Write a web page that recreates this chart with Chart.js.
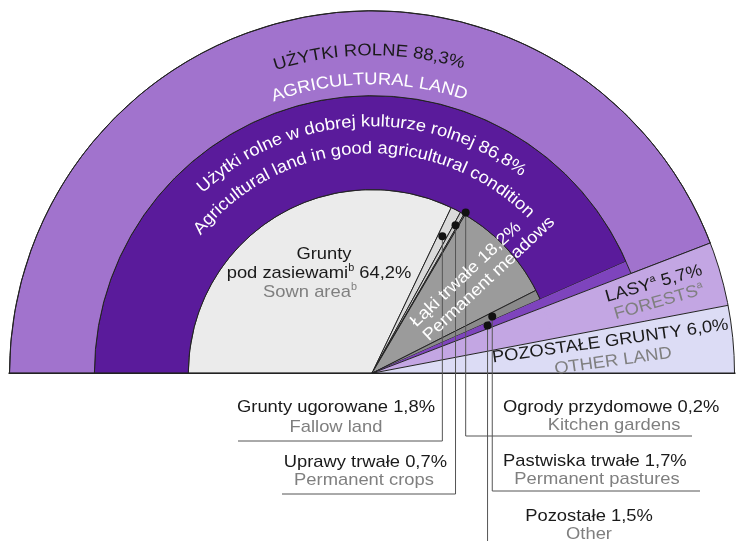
<!DOCTYPE html>
<html>
<head>
<meta charset="utf-8">
<script src="https://cdn.jsdelivr.net/npm/chart.js@4.4.1/dist/chart.umd.min.js"></script>
<style>
  html, body { margin: 0; padding: 0; background: #fff; }
  canvas { display: block; }
</style>
</head>
<body>
<canvas id="landChart" width="736" height="541"></canvas>
<script>
// Struktura użytkowania gruntów (% powierzchni ogólnej)
const landLabels = ['UŻYTKI ROLNE', 'LASY', 'POZOSTAŁE GRUNTY'];
const landLabelsEn = ['AGRICULTURAL LAND', 'FORESTS', 'OTHER LAND'];
const landShares = [88.3, 5.7, 6.0];

const goodConditionLabel = 'Użytki rolne w dobrej kulturze rolnej';
const goodConditionLabelEn = 'Agricultural land in good agricultural condition';
const goodConditionShare = 86.8;

const agriLabels = ['Grunty pod zasiewami', 'Grunty ugorowane', 'Uprawy trwałe', 'Ogrody przydomowe', 'Łąki trwałe', 'Pastwiska trwałe', 'Pozostałe'];
const agriLabelsEn = ['Sown area', 'Fallow land', 'Permanent crops', 'Kitchen gardens', 'Permanent meadows', 'Permanent pastures', 'Other'];
const agriShares = [64.2, 1.8, 0.7, 0.2, 18.2, 1.7, 1.5];

const landColors = ['#A173CD', '#C3A6E3', '#DCDCF5'];
const agriColors = ['#EBEBEB', '#DADADA', '#CACACA', '#BDBDBD', '#9B9B9B', '#8A8A8A', '#7E44BD'];
const goodColor = '#5A1B9B';

const FONT = '17px "Liberation Sans", Arial, sans-serif';
const SUP_FONT = '10px "Liberation Sans", Arial, sans-serif';
const SX = 1.08; // text in the original is a bit wider than Arial
const BLACK = '#1a1a1a';
const GREY = '#7f7f7f';

const fmt = v => v.toFixed(1).replace('.', ',') + '%';
const rad = d => d * Math.PI / 180;

// callouts for the thin slices: dot radius, leader line and label places
const callouts = [
    { idx: 1, r: 154, lineY: 441, lineX: 238, mainX: 435, mainY: 412, align: 'right', subX: 336, subY: 432 },
    { idx: 2, r: 170, lineY: 494, lineX: 282, mainX: 447, mainY: 467, align: 'right', subX: 364, subY: 485 },
    { idx: 3, r: 186, lineY: 436, lineX: 692, mainX: 503, mainY: 412, align: 'left', subX: 614, subY: 430 },
    { idx: 5, r: 133, lineY: 491, lineX: 700, mainX: 503, mainY: 466, align: 'left', subX: 597, subY: 484 },
    { idx: 6, r: 125, lineY: 541, lineX: null, mainX: 589, mainY: 521, align: 'center', subX: 589, subY: 539 }
];

function rich(ctx, parts, x, y, align) {
    // parts: [text, colour, superscript?]
    ctx.save();
    ctx.translate(x, y);
    ctx.scale(SX, 1);
    ctx.textAlign = 'left';
    ctx.textBaseline = 'alphabetic';
    const w = parts.map(p => { ctx.font = p[2] ? SUP_FONT : FONT; return ctx.measureText(p[0]).width; });
    const total = w.reduce((a, b) => a + b, 0);
    let px = align === 'center' ? -total / 2 : align === 'right' ? -total : 0;
    parts.forEach((p, k) => {
        ctx.font = p[2] ? SUP_FONT : FONT;
        ctx.fillStyle = p[1];
        ctx.fillText(p[0], px, p[2] ? -7 : 0);
        px += w[k];
    });
    ctx.restore();
}

function arcText(ctx, str, cx, cy, r, centerDeg, color) {
    ctx.save();
    ctx.font = FONT;
    ctx.fillStyle = color;
    ctx.textAlign = 'center';
    ctx.textBaseline = 'alphabetic';
    const chars = [...str];
    const widths = chars.map(ch => ctx.measureText(ch).width * SX);
    const total = widths.reduce((a, b) => a + b, 0);
    let a = rad(centerDeg) - total / r / 2;
    chars.forEach((ch, k) => {
        const mid = a + widths[k] / 2 / r;
        ctx.save();
        ctx.translate(cx + r * Math.cos(mid), cy + r * Math.sin(mid));
        ctx.rotate(mid + Math.PI / 2);
        ctx.scale(SX, 1);
        ctx.fillText(ch, 0, 0);
        ctx.restore();
        a += widths[k] / r;
    });
    ctx.restore();
}

const overlay = {
    id: 'overlay',
    afterDatasetsDraw(chart) {
        const ctx = chart.ctx;
        const outer = chart.getDatasetMeta(0).data;
        const middle = chart.getDatasetMeta(1).data;
        const inner = chart.getDatasetMeta(2).data;
        const cx = outer[0].x, cy = outer[0].y, R = outer[0].outerRadius;
        const midAngle = el => (el.startAngle + el.endAngle) / 2;

        ctx.save();
        // hide the seams where a slice runs through several rings
        const cover = el => {
            ctx.strokeStyle = el.options.backgroundColor;
            ctx.lineWidth = 2;
            ctx.beginPath();
            ctx.arc(cx, cy, el.innerRadius, el.startAngle + 0.004, el.endAngle - 0.004);
            ctx.stroke();
        };
        cover(outer[1]); cover(outer[2]);
        cover(middle[1]); cover(middle[2]); cover(middle[3]);

        ctx.strokeStyle = '#222';
        ctx.lineWidth = 1;
        ctx.beginPath();
        ctx.arc(cx, cy, R, Math.PI, 2 * Math.PI);
        ctx.stroke();
        [outer[1].startAngle, outer[2].startAngle].forEach(a => {
            ctx.beginPath();
            ctx.moveTo(cx, cy);
            ctx.lineTo(cx + R * Math.cos(a), cy + R * Math.sin(a));
            ctx.stroke();
        });
        ctx.lineWidth = 1.5;
        ctx.beginPath();
        ctx.moveTo(cx - R - 1, cy);
        ctx.lineTo(cx + R + 1, cy);
        ctx.stroke();

        // leader lines and dots
        callouts.forEach(c => {
            const a = midAngle(inner[c.idx]);
            const dx = cx + c.r * Math.cos(a), dy = cy + c.r * Math.sin(a);
            ctx.strokeStyle = '#555';
            ctx.lineWidth = 1;
            ctx.beginPath();
            ctx.moveTo(dx, dy);
            ctx.lineTo(dx, c.lineY);
            if (c.lineX !== null) ctx.lineTo(c.lineX, c.lineY);
            ctx.stroke();
            ctx.fillStyle = '#111';
            ctx.beginPath();
            ctx.arc(dx, dy, 4, 0, 2 * Math.PI);
            ctx.fill();
            rich(ctx, [[agriLabels[c.idx] + ' ' + fmt(agriShares[c.idx]), BLACK]], c.mainX, c.mainY, c.align);
            rich(ctx, [[agriLabelsEn[c.idx], GREY]], c.subX, c.subY, 'center');
        });

        // curved labels
        arcText(ctx, landLabels[0] + ' ' + fmt(landShares[0]), cx, cy, 318, -90.5, BLACK);
        arcText(ctx, landLabelsEn[0], cx, cy, 289, -90.5, '#fff');
        arcText(ctx, goodConditionLabel + ' ' + fmt(goodConditionShare), cx, cy, 247, -93, '#fff');
        arcText(ctx, goodConditionLabelEn, cx, cy, 220, -93, '#fff');

        // sown area
        const sown = agriLabels[0].split(' ');
        rich(ctx, [[sown[0], BLACK]], 324, 259, 'center');
        rich(ctx, [[sown.slice(1).join(' '), BLACK], ['b', BLACK, true], [' ' + fmt(agriShares[0]), BLACK]], 319, 278, 'center');
        rich(ctx, [[agriLabelsEn[0], GREY], ['b', GREY, true]], 310, 297, 'center');

        // permanent meadows, along the slice
        let a = midAngle(inner[4]);
        ctx.save();
        ctx.translate(cx + 143 * Math.cos(a), cy + 143 * Math.sin(a));
        ctx.rotate(a);
        rich(ctx, [[agriLabels[4] + ' ' + fmt(agriShares[4]), '#fff']], -7, -3, 'center');
        rich(ctx, [[agriLabelsEn[4], '#fff']], 7, 16, 'center');
        ctx.restore();

        // forests
        a = midAngle(outer[1]);
        ctx.save();
        ctx.translate(cx + 297 * Math.cos(a), cy + 297 * Math.sin(a));
        ctx.rotate(a);
        rich(ctx, [[landLabels[1], BLACK], ['a', BLACK, true], [' ' + fmt(landShares[1]), BLACK]], -1.5, -4, 'center');
        rich(ctx, [[landLabelsEn[1], GREY], ['a', GREY, true]], -1.5, 15, 'center');
        ctx.restore();

        // other land
        ctx.save();
        ctx.translate(611, 346);
        ctx.rotate(rad(-8));
        rich(ctx, [[landLabels[2] + ' ' + fmt(landShares[2]), BLACK]], 0, 0, 'center');
        rich(ctx, [[landLabelsEn[2], GREY]], 0, 20, 'center');
        ctx.restore();

        ctx.restore();
    }
};

new Chart(document.getElementById('landChart'), {
    type: 'doughnut',
    data: {
        labels: agriLabels,
        datasets: [
            {
                data: landShares,
                backgroundColor: landColors,
                borderColor: '#222',
                borderWidth: [1, 0, 0],
                weight: 85
            },
            {
                data: [goodConditionShare, agriShares[6], landShares[1], landShares[2]],
                backgroundColor: [goodColor, agriColors[6], landColors[1], landColors[2]],
                borderColor: '#222',
                borderWidth: [1, 0, 0, 0],
                weight: 94
            },
            {
                data: [...agriShares, landShares[1], landShares[2]],
                backgroundColor: [...agriColors, landColors[1], landColors[2]],
                borderColor: '#222',
                borderWidth: [1, 1, 1, 1, 1, 1, 0, 0, 0],
                weight: 184
            }
        ]
    },
    options: {
        responsive: false,
        animation: false,
        events: [],
        rotation: -90,
        circumference: 180,
        cutout: 0,
        layout: { padding: { left: 9, right: 1, top: 10, bottom: 167 } },
        plugins: {
            legend: { display: false },
            tooltip: { enabled: false }
        }
    },
    plugins: [overlay]
});
</script>
</body>
</html>
